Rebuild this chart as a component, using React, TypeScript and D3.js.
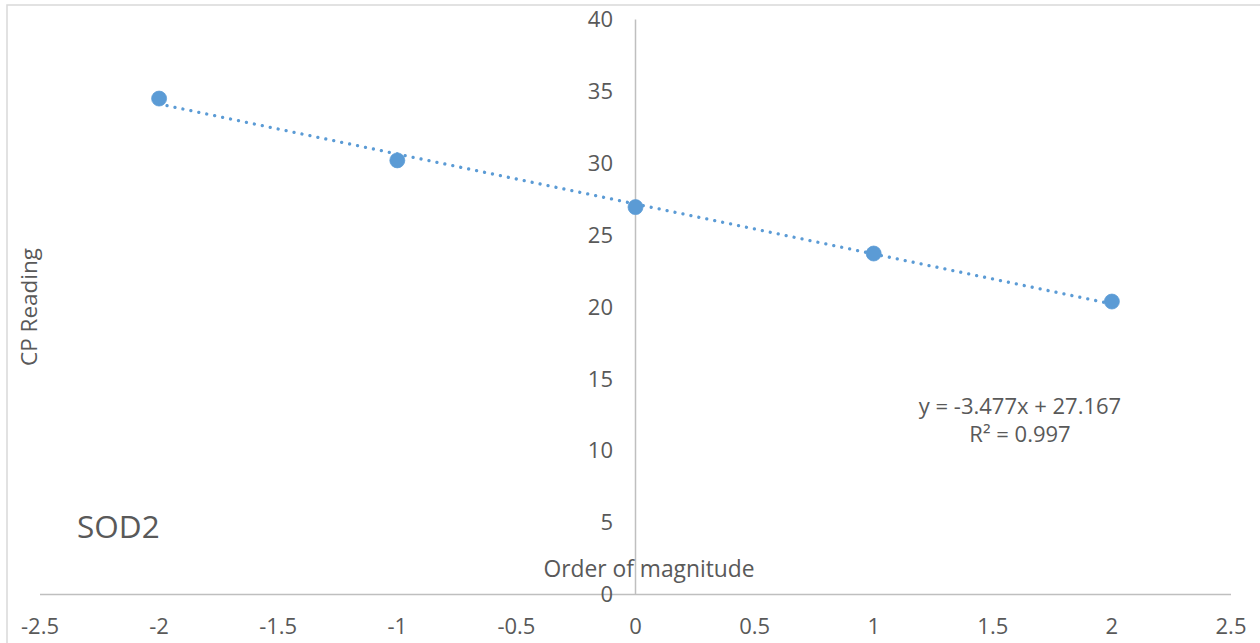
import React from 'react';
import * as d3 from 'd3';

// data
const orderValues = [-2, -1, 0, 1, 2];
const cpValues = [34.5, 30.2, 26.95, 23.72, 20.38];
const xTicks = [-2.5, -2, -1.5, -1, -0.5, 0, 0.5, 1, 1.5, 2, 2.5];
const yTicks = [0, 5, 10, 15, 20, 25, 30, 35, 40];
const trendSlope = -3.477;
const trendIntercept = 27.167;
const equationLines = ['y = -3.477x + 27.167', 'R² = 0.997'];

const W = 1260;
const H = 643;
const FONT = '"Open Sans", sans-serif';
const TEXT = '#595959';
const AXIS = '#bfbfbf';
const BLUE = '#5b9bd5';

export default function App() {
  const x = d3.scaleLinear().domain([-2.5, 2.5]).range([40, 1231]);
  const y = d3.scaleLinear().domain([0, 40]).range([594.5, 19.5]);

  const trend = d3.line<number>()
    .x(d => x(d))
    .y(d => y(trendSlope * d + trendIntercept));

  const points = orderValues.map((v, i) => ({ v, cp: cpValues[i] }));
  const trendX = [d3.min(orderValues)!, d3.max(orderValues)!];

  return (
    <div style={{ position: 'absolute', left: 0, top: 0 }}>
      <svg width={W} height={H} style={{ display: 'block', background: '#fff' }}>
        {/* chart area border */}
        <rect x={7} y={5} width={W + 20} height={H + 20} fill="#fff" stroke="#d9d9d9" strokeWidth={1.5} />

        {/* axes */}
        <line x1={x(-2.5)} x2={x(2.5)} y1={y(0)} y2={y(0)} stroke={AXIS} strokeWidth={1.5} />
        <line x1={x(0)} x2={x(0)} y1={y(40)} y2={y(0)} stroke={AXIS} strokeWidth={1.5} />

        {/* y ticks */}
        {yTicks.map(t => (
          <text key={'y' + t} x={613} y={y(t)} dy="0.35em" textAnchor="end"
            fontFamily={FONT} fontSize={22} fill={TEXT}>{t}</text>
        ))}

        {/* x ticks */}
        {xTicks.map(t => (
          <text key={'x' + t} x={x(t)} y={634} textAnchor="middle"
            fontFamily={FONT} fontSize={22} fill={TEXT}>{t}</text>
        ))}

        {/* axis titles */}
        <text x={649} y={577} textAnchor="middle" fontFamily={FONT} fontSize={22.8} fill={TEXT}>Order of magnitude</text>
        <text transform={`translate(37,307) rotate(-90)`} textAnchor="middle" fontFamily={FONT} fontSize={22.5} fill={TEXT}>CP Reading</text>

        {/* trendline */}
        <path d={trend(trendX) || ''} fill="none" stroke={BLUE} strokeWidth={3.3}
          strokeLinecap="round" strokeDasharray="0.01 8.1" />

        {/* markers */}
        {points.map(p => (
          <circle key={p.v} cx={x(p.v)} cy={y(p.cp)} r={7.5} fill={BLUE} stroke={BLUE} strokeWidth={0.75} />
        ))}

        {/* equation */}
        <text x={1020} y={414} textAnchor="middle" fontFamily={FONT} fontSize={22} fill={TEXT}>
          {equationLines.map((l, i) => (
            <tspan key={i} x={1020} dy={i === 0 ? 0 : 28}>{l}</tspan>
          ))}
        </text>

        {/* series label */}
        <text x={77} y={538} fontFamily={FONT} fontSize={31.5} fill={TEXT}>SOD2</text>
      </svg>
    </div>
  );
}
